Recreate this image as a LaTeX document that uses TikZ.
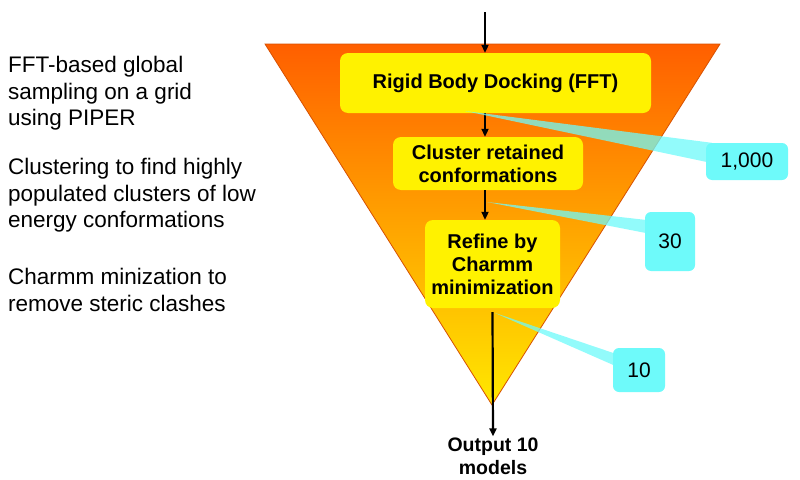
\documentclass[tikz,border=0pt]{standalone}
\usepackage{fontspec}
\setmainfont{Liberation Sans}
\usetikzlibrary{arrows.meta,positioning}

\definecolor{callcyan}{RGB}{110,250,250}
\definecolor{funneltop}{RGB}{255,95,0}
\definecolor{funnelmid}{RGB}{255,160,0}
\definecolor{funnelbot}{RGB}{255,232,0}
\definecolor{funnelline}{RGB}{215,80,0}

\tikzset{
		stage/.style={
			rounded corners=8pt, fill=yellow, inner sep=0pt, align=center,
			font=\fontsize{20}{23}\selectfont\bfseries},
		count/.style={
			rounded corners=6pt, fill=callcyan, inner sep=0pt,
			font=\fontsize{21}{25}\selectfont},
		pointer/.style={fill=callcyan, fill opacity=0.75},
		flow/.style={draw, line width=2.2pt, -{Triangle[length=8pt,width=7pt]}},
		note/.style={anchor=north west, align=left, inner sep=0pt,
			font=\fontsize{22.5}{26.5}\selectfont},
	}

\begin{document}
\begin{tikzpicture}[x=1pt, y=-1pt]
			\useasboundingbox (0,0) rectangle (800,479);
			% funnel
			\shade[top color=funneltop, middle color=funnelmid, bottom color=funnelbot]
			(265,44) -- (720,44) -- (492,405) -- cycle;
			\draw[funnelline, line width=0.8pt] (265,44) -- (720,44) -- (492,405) -- cycle;
			% stages
			\node[stage, minimum width=311, minimum height=60] (rigid) at (495.5,83)
			{Rigid Body Docking (FFT)};
			\node[stage, minimum width=190, minimum height=53] (cluster) at (488,163.5)
			{Cluster retained\\conformations};
			\node[stage, minimum width=135, minimum height=88] (refine) at (492.5,264)
			{Refine by\\Charmm\\minimization};
			\node[inner sep=1pt, align=center, font=\fontsize{19.5}{23}\selectfont\bfseries]
			(output) at (493,456) {Output 10\\models};
			\coordinate (start) at (485,12);
			\draw[flow] (start) -- (start |- rigid.north);
			\draw[flow] (rigid.south -| start) -- (cluster.north -| start);
			\draw[flow] (cluster.south -| start) -- (refine.north -| start);
			\draw[flow] ([yshift=-4pt]refine.south) -- (output.north);
			% counts
			\node[count, minimum width=82, minimum height=37] (n1000) at (747,161.5) {1,000};
			\node[count, minimum width=50, minimum height=59] (n30) at (670,241.5) {30};
			\node[count, minimum width=52, minimum height=44] (n10) at (639,370) {10};
			\coordinate (p1) at (465,111);
			\coordinate (p2) at (487,202);
			\coordinate (p3) at (495,313);
			\fill[pointer] (p1) -- ([xshift=6pt]n1000.north west) -- ([yshift=-19pt]n1000.north west) -- cycle;
			\fill[pointer] (p2) -- ([yshift=-8pt]n30.north west) -- ([yshift=-21pt]n30.north west) -- cycle;
			\fill[pointer] (p3) -- ([yshift=-5pt]n10.north west) -- ([yshift=-17pt]n10.north west) -- cycle;
			% notes
			\node[note] (fft) at (8,56) {FFT-based global\\sampling on a grid\\using PIPER};
			\node[note] (clust) at (8,158) {Clustering to find highly\\populated clusters of low\\energy conformations};
			\node[note] (charmm) at (8,268) {Charmm minization to\\remove steric clashes};
\end{tikzpicture}
\end{document}
